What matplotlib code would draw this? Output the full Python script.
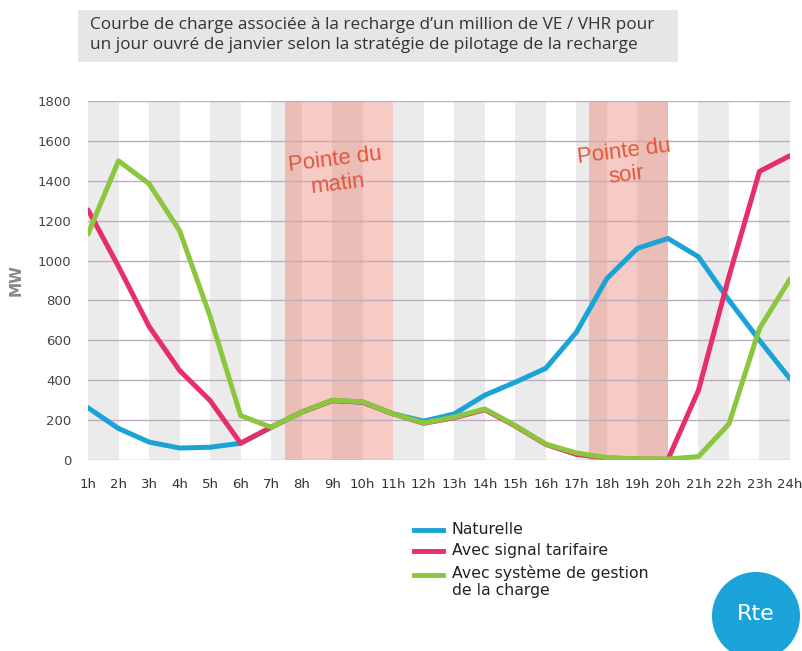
import matplotlib
matplotlib.use("Agg")
import matplotlib.pyplot as plt
from matplotlib.patches import Rectangle, Ellipse

plt.rcParams['font.family'] = ['DejaVu Sans']

hours = list(range(1, 25))
hour_labels = [f"{h}h" for h in hours]

naturelle = [262, 158, 90, 60, 64, 84, 164, 240, 298, 290, 231, 195, 231, 325, 390, 460,
             640, 910, 1061, 1111, 1019, 801, 600, 407]
signal_tarifaire = [1254, 970, 670, 449, 298, 84, 164, 240, 298, 290, 231, 184, 212, 252, 170, 78,
                    28, 10, 5, 3, 349, 920, 1447, 1526]
gestion_charge = [1133, 1500, 1385, 1150, 720, 223, 164, 240, 300, 292, 231, 186, 215, 256, 173, 80,
                  35, 12, 6, 5, 17, 181, 659, 907]

series_names = ["Naturelle", "Avec signal tarifaire", "Avec système de gestion\nde la charge"]
series_colors = ["#1aa3d6", "#e62e6b", "#8cc63f"]

y_ticks = list(range(0, 1801, 200))
peak_morning = (7.47, 11.0)
peak_evening = (17.43, 20.0)

fig = plt.figure(figsize=(8.03, 6.51), dpi=100)
ax = fig.add_axes([88/803, 1-460/651, (790-88)/803, (460-101)/651])

# alternating stripes
for k in range(1, 24, 2):
    ax.axvspan(k, k+1, color="#ebebeb", zorder=0, lw=0)
# peak bands
for (a, b) in (peak_morning, peak_evening):
    ax.axvspan(a, b, color="#e8604c", alpha=0.32, zorder=1, lw=0)

for yv in y_ticks:
    ax.axhline(yv, color="#bdaebd", lw=1.0, zorder=2)

for data, col in zip([naturelle, signal_tarifaire, gestion_charge], series_colors):
    ax.plot(hours, data, color=col, lw=3.6, zorder=3, solid_joinstyle='round', solid_capstyle='round')

ax.set_xlim(1, 24)
ax.set_ylim(0, 1800)
ax.set_yticks(y_ticks)
ax.set_yticklabels([str(v) for v in y_ticks], fontsize=9.5, color="#444444")
ax.set_xticks(hours)
ax.set_xticklabels(hour_labels, fontsize=9.5, color="#333333")
ax.tick_params(axis='both', length=0)
ax.tick_params(axis='y', pad=12)
ax.tick_params(axis='x', pad=13)
for s in ax.spines.values():
    s.set_visible(False)
ax.set_ylabel("MW", fontsize=11, color="#888888", fontweight='bold', labelpad=10)

ax.text(9.15, 1445, "Pointe du\nmatin", color="#e5553a", fontsize=16, ha='center', va='center',
        rotation=7, linespacing=1.2, zorder=4, family="Liberation Sans")
ax.text(18.6, 1485, "Pointe du\nsoir", color="#e5553a", fontsize=16, ha='center', va='center',
        rotation=7, linespacing=1.2, zorder=4, family="Liberation Sans")

# title box
fig.patches.append(Rectangle((78/803, 1-62/651), 600/803, 52/651, transform=fig.transFigure,
                             facecolor="#e6e6e6", edgecolor="none", zorder=0))
fig.text(90/803, 1-35/651,
         "Courbe de charge associée à la recharge d\u2019un million de VE / VHR pour\n"
         "un jour ouvré de janvier selon la stratégie de pilotage de la recharge",
         fontsize=12.4, color="#333333", va='center', ha='left', linespacing=1.3, family="Open Sans")

# legend
leg_y = [530, 551, 575]
for name, col, yy in zip(series_names, series_colors, leg_y):
    yf = 1 - yy/651
    fig.add_artist(plt.Line2D([414/803, 443/803], [yf, yf], color=col, lw=3.5, transform=fig.transFigure))
    if '\n' in name:
        fig.text(452/803, yf + 10/651, name, fontsize=11.3, color="#222222", va='top', ha='left',
                 linespacing=1.2)
    else:
        fig.text(452/803, yf, name, fontsize=11.3, color="#222222", va='center', ha='left')

# Rte logo
r = 44
fig.patches.append(Ellipse((756/803, 1-616/651), 2*r/803, 2*r/651, transform=fig.transFigure,
                           facecolor="#19a3d9", edgecolor="none"))
fig.text(756/803, 1-614/651, "Rte", fontsize=16, color="white", ha='center', va='center')

fig.savefig("out.png", dpi=100)
